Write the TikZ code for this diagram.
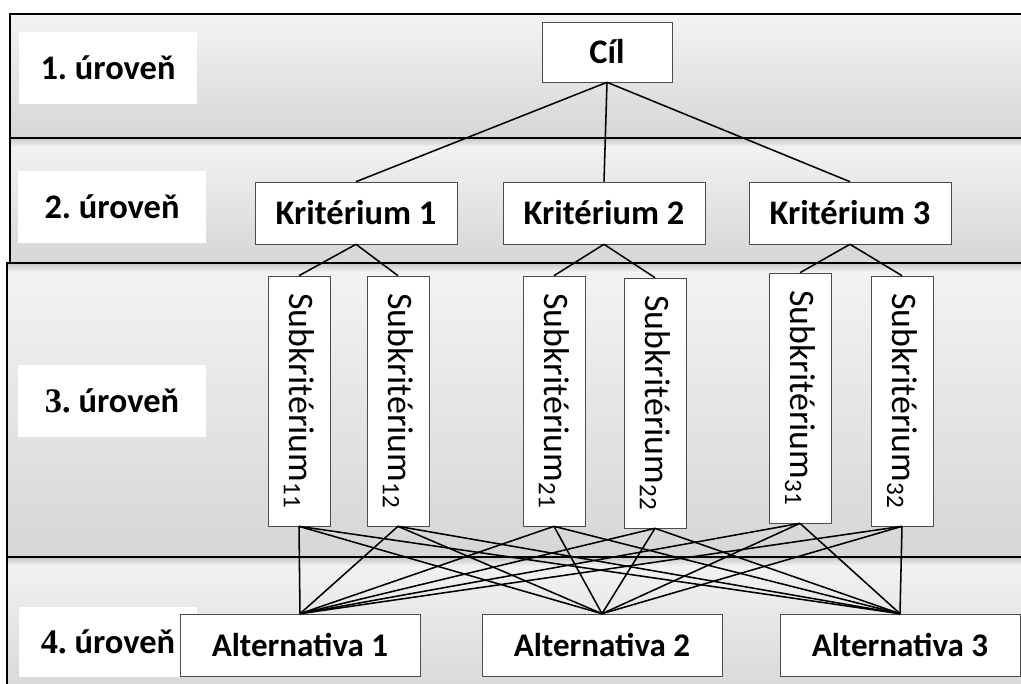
\documentclass[tikz,border=0pt]{standalone}
\usepackage{fontspec}
\setmainfont{Carlito}
\newfontfamily\timesfont{Liberation Serif}
\usepackage{tikz}
\newcommand\bigfont{\fontsize{24.5}{28}\selectfont}
\newcommand\altfont{\fontsize{23.5}{28}\selectfont}
\newcommand\subfont{\fontsize{25.5}{30}\selectfont}

\begin{document}
\frenchspacing
\begin{tikzpicture}[x=0.025cm, y=-0.025cm,
    uroven/.style = {fill=white, inner sep=0pt, font=\bigfont\bfseries},
    box/.style = {draw=gray!60!black, fill=white, inner sep=0pt},
    cil/.style = {box, minimum width=3.25cm, minimum height=1.5cm,
      font=\bigfont\bfseries},
    krit/.style = {box, minimum width=5.05cm, minimum height=1.55cm,
      font=\bigfont\bfseries},
    subkrit/.style = {box, rotate=-90, minimum width=6.25cm,
      minimum height=1.55cm, font=\subfont},
    alt/.style = {box, minimum width=6cm, minimum height=1.55cm,
      font=\altfont\bfseries},
    band/.style = {line width=1.6pt},
    spoj/.style = {line width=1.1pt}]

  \clip (0,0) rectangle (1021,684);
  \fill[white] (0,0) rectangle (1021,684);

  \foreach \t/\b/\l in {14/138/10, 138/263/10, 263/557/7, 557/700/7}
    \shade[top color=gray!9, bottom color=gray!32] (\l,\t) rectangle (1030,\b);
  \foreach \t/\l in {138/10, 263/7, 557/7}
    \shade[top color=gray!45, bottom color=gray!9] (\l,\t) rectangle (1030,\t+9);
  \foreach \t/\b/\l in {14/138/10, 138/263/10, 263/557/7, 557/700/7}
    \draw[band] (1030,\t) -- (\l,\t) -- (\l,\b);
  \draw[band] (7,557) -- (1030,557);

  \node [uroven, minimum width=4.45cm, minimum height=1.8cm] (U1) at (108,68) {1. úroveň};
  \node [uroven, minimum width=4.675cm, minimum height=1.775cm] (U2) at (112,207) {2. úroveň};
  \node [uroven, minimum width=4.675cm, minimum height=1.8cm] (U3) at (112,401) {{\timesfont 3.} úroveň};
  \node [uroven, minimum width=4.425cm, minimum height=1.75cm] (U4) at (108,642) {{\timesfont 4.} úroveň};

  \node [cil] (C) at (607,52) {Cíl};

  \node [krit] (K1) at (356,213) {Kritérium 1};
  \node [krit] (K2) at (604,213) {Kritérium 2};
  \node [krit] (K3) at (850,213) {Kritérium 3};

  \node [subkrit] (S11) at (299,401) {Subkritérium\textsubscript{11}};
  \node [subkrit] (S12) at (398,401) {Subkritérium\textsubscript{12}};
  \node [subkrit] (S21) at (554,401) {Subkritérium\textsubscript{21}};
  \node [subkrit] (S22) at (655,403) {Subkritérium\textsubscript{22}};
  \node [subkrit] (S31) at (800,398) {Subkritérium\textsubscript{31}};
  \node [subkrit] (S32) at (902,401) {Subkritérium\textsubscript{32}};

  \node [alt] (A1) at (300,645) {Alternativa 1};
  \node [alt] (A2) at (602,645) {Alternativa 2};
  \node [alt] (A3) at (900,645) {Alternativa 3};

  \foreach \k in {1,2,3}
    \draw[spoj] (C.south) -- (K\k.north);
  \foreach \k in {1,2,3}
    \foreach \s in {1,2}
      \draw[spoj] (K\k.south) -- (S\k\s.west);
  \foreach \k in {1,2,3}
    \foreach \s in {1,2}
      \foreach \a in {1,2,3}
        \draw[spoj] (S\k\s.east) -- (A\a.north);
\end{tikzpicture}
\end{document}
